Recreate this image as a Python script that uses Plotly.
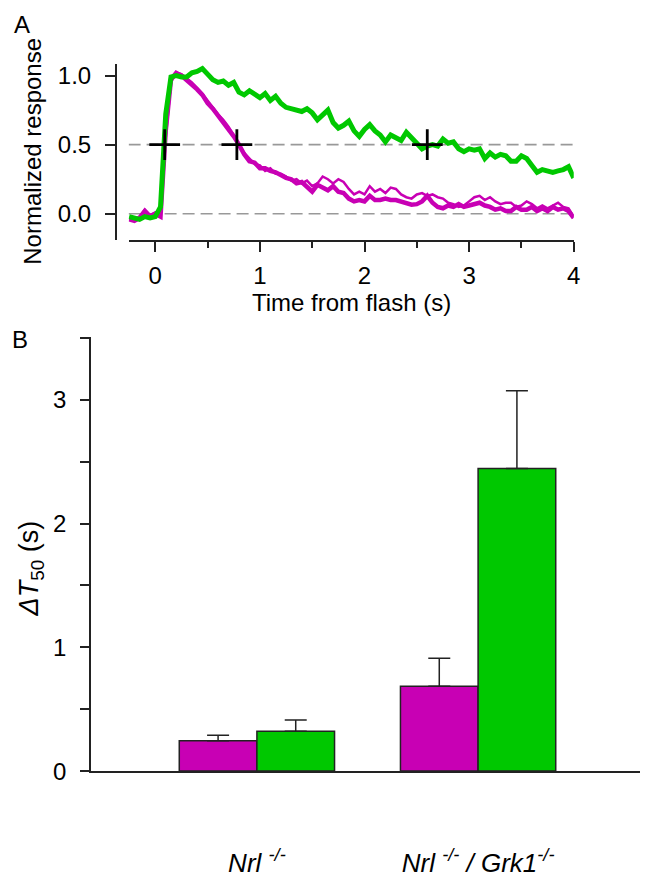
import plotly.graph_objects as go

# ---------------- Panel A data ----------------
time_s = [-0.25, -0.20, -0.15, -0.10, -0.05, 0.00, 0.05, 0.10, 0.15, 0.20,
          0.25, 0.30, 0.35, 0.40, 0.45, 0.50, 0.55, 0.60, 0.65, 0.70,
          0.75, 0.80, 0.85, 0.90, 0.95, 1.00, 1.05, 1.10, 1.15, 1.20,
          1.25, 1.30, 1.35, 1.40, 1.45, 1.50, 1.55, 1.60, 1.65, 1.70,
          1.75, 1.80, 1.85, 1.90, 1.95, 2.00, 2.05, 2.10, 2.15, 2.20,
          2.25, 2.30, 2.35, 2.40, 2.45, 2.50, 2.55, 2.60, 2.65, 2.70,
          2.75, 2.80, 2.85, 2.90, 2.95, 3.00, 3.05, 3.10, 3.15, 3.20,
          3.25, 3.30, 3.35, 3.40, 3.45, 3.50, 3.55, 3.60, 3.65, 3.70,
          3.75, 3.80, 3.85, 3.90, 3.95, 4.00]

green_resp = [-0.02, -0.03, -0.04, -0.02, -0.03, -0.02, 0.05, 0.72, 0.99, 1.00,
              0.99, 0.99, 1.02, 1.03, 1.05, 1.01, 0.97, 0.95, 0.96, 0.93,
              0.95, 0.88, 0.86, 0.89, 0.86, 0.84, 0.87, 0.82, 0.85, 0.80,
              0.77, 0.76, 0.75, 0.74, 0.76, 0.73, 0.68, 0.71, 0.75, 0.66,
              0.62, 0.64, 0.67, 0.60, 0.56, 0.61, 0.645, 0.60, 0.57, 0.52,
              0.57, 0.55, 0.53, 0.59, 0.55, 0.50, 0.47, 0.49, 0.50, 0.49,
              0.54, 0.51, 0.52, 0.47, 0.45, 0.47, 0.46, 0.47, 0.40, 0.44,
              0.41, 0.43, 0.42, 0.38, 0.38, 0.42, 0.40, 0.35, 0.30, 0.32,
              0.31, 0.30, 0.31, 0.32, 0.34, 0.26]

magenta_resp_1 = [-0.04, -0.05, -0.03, 0.02, -0.02, 0.00, -0.02, 0.60, 0.97, 1.02,
                  1.00, 0.97, 0.94, 0.90, 0.86, 0.80, 0.76, 0.71, 0.67, 0.62,
                  0.56, 0.50, 0.43, 0.38, 0.37, 0.33, 0.33, 0.31, 0.30, 0.28,
                  0.26, 0.25, 0.22, 0.23, 0.19, 0.16, 0.21, 0.19, 0.17, 0.20,
                  0.16, 0.15, 0.11, 0.09, 0.10, 0.09, 0.13, 0.10, 0.10, 0.11,
                  0.10, 0.10, 0.09, 0.08, 0.066, 0.07, 0.09, 0.13, 0.08, 0.05,
                  0.04, 0.06, 0.05, 0.07, 0.05, 0.06, 0.07, 0.08, 0.06, 0.05,
                  0.03, 0.04, 0.02, 0.02, 0.05, 0.03, 0.03, 0.05, 0.02, 0.04,
                  0.02, 0.05, 0.03, 0.04, 0.02, -0.03]

magenta_resp_2 = [-0.03, -0.04, -0.02, 0.03, -0.01, 0.01, -0.01, 0.55, 0.95, 1.02,
                  1.01, 0.98, 0.95, 0.91, 0.87, 0.82, 0.77, 0.72, 0.68, 0.63,
                  0.57, 0.49, 0.44, 0.40, 0.36, 0.35, 0.31, 0.33, 0.29, 0.29,
                  0.27, 0.24, 0.25, 0.22, 0.24, 0.20, 0.22, 0.27, 0.25, 0.22,
                  0.25, 0.23, 0.18, 0.14, 0.16, 0.14, 0.20, 0.16, 0.18, 0.15,
                  0.19, 0.18, 0.14, 0.12, 0.11, 0.14, 0.15, 0.13, 0.14, 0.12,
                  0.11, 0.08, 0.07, 0.05, 0.06, 0.09, 0.12, 0.13, 0.10, 0.12,
                  0.09, 0.07, 0.08, 0.08, 0.05, 0.06, 0.09, 0.07, 0.04, 0.06,
                  0.04, 0.06, 0.08, 0.05, 0.04, -0.02]

t50_time = [0.09, 0.78, 2.60]
t50_level = [0.5, 0.5, 0.5]
ref_levels = [0.0, 0.5]

a_xticks = [0, 1, 2, 3, 4]
a_xminor = [0.5, 1.5, 2.5, 3.5]
a_yticks = [0.0, 0.5, 1.0]
a_yticktext = ["0.0", "0.5", "1.0"]

# ---------------- Panel B data ----------------
genotypes = ["Nrl", "Nrl/Grk1"]
genotype_labels = ["<i>Nrl <sup>-/-</sup></i>",
                   "<i>Nrl <sup>-/-</sup> / Grk1<sup>-/-</sup></i>"]
dT50_magenta = [0.246, 0.686]
dT50_magenta_err = [0.044, 0.225]
dT50_green = [0.322, 2.445]
dT50_green_err = [0.090, 0.629]
b_yticks = [0, 0.5, 1, 1.5, 2, 2.5, 3, 3.5]
b_yticktext = ["0", "", "1", "", "2", "", "3", ""]

GREEN = "#00c800"
MAGENTA = "#c800b4"
AXIS = "#222222"
FONT = "Liberation Sans, Arial, sans-serif"
FS = 24
W, H = 648, 878

fig = go.Figure()

# reference dashed levels
for lv in ref_levels:
    fig.add_trace(go.Scatter(x=[time_s[0] - 0.005, time_s[-1]], y=[lv, lv], mode="lines",
                             line=dict(color="#999999", width=1.6, dash="12px,6px"),
                             xaxis="x", yaxis="y", showlegend=False, hoverinfo="skip"))

fig.add_trace(go.Scatter(x=time_s, y=magenta_resp_2, mode="lines",
                         line=dict(color=MAGENTA, width=2.5), xaxis="x", yaxis="y",
                         showlegend=False))
fig.add_trace(go.Scatter(x=time_s, y=magenta_resp_1, mode="lines",
                         line=dict(color=MAGENTA, width=4.5), xaxis="x", yaxis="y",
                         showlegend=False))
fig.add_trace(go.Scatter(x=time_s, y=green_resp, mode="lines",
                         line=dict(color=GREEN, width=5), xaxis="x", yaxis="y",
                         showlegend=False))
fig.add_trace(go.Scatter(x=t50_time, y=t50_level, mode="markers",
                         marker=dict(symbol="cross-thin", size=22,
                                     line=dict(color="black", width=2.8)),
                         xaxis="x", yaxis="y", showlegend=False, cliponaxis=False))

# Panel B bars
fig.add_trace(go.Bar(x=genotypes, y=dT50_magenta, marker=dict(color=MAGENTA, line=dict(color=AXIS, width=1.5)),
                     error_y=dict(type="data", array=dT50_magenta_err, arrayminus=[0, 0], symmetric=False,
                                  color=AXIS, thickness=1.5, width=11),
                     xaxis="x2", yaxis="y2", showlegend=False))
fig.add_trace(go.Bar(x=genotypes, y=dT50_green, marker=dict(color=GREEN, line=dict(color=AXIS, width=1.5)),
                     error_y=dict(type="data", array=dT50_green_err, arrayminus=[0, 0], symmetric=False,
                                  color=AXIS, thickness=1.5, width=11),
                     xaxis="x2", yaxis="y2", showlegend=False))

tickfont = dict(family=FONT, size=FS, color="black")

fig.update_layout(
    width=W, height=H, margin=dict(l=0, r=0, t=0, b=0),
    paper_bgcolor="white", plot_bgcolor="white",
    font=dict(family=FONT, size=FS, color="black"),
    barmode="group", bargap=0.298, bargroupgap=0,
    xaxis=dict(domain=[130 / W, 580 / W], range=[-0.255, 4.0], anchor="y",
               showline=True, linecolor=AXIS, linewidth=1.5, showgrid=False, zeroline=False,
               tickvals=a_xticks, ticks="outside", ticklen=10, tickwidth=1.5, tickcolor=AXIS,
               minor=dict(tickvals=a_xminor, ticks="outside", ticklen=6, tickwidth=1.5, tickcolor=AXIS),
               tickfont=tickfont, ticklabelstandoff=3),
    yaxis=dict(domain=[1 - 243 / H, 1 - 63 / H], range=[-0.1915, 1.085], anchor="free",
               position=117 / W, showline=True, linecolor=AXIS, linewidth=1.5, showgrid=False,
               zeroline=False, tickvals=a_yticks, ticktext=a_yticktext, ticks="outside",
               ticklen=10, tickwidth=1.5, tickcolor=AXIS, tickfont=tickfont, ticklabelstandoff=9),
    xaxis2=dict(domain=[92 / W, 647 / W], range=[-0.75, 1.732], anchor="y2",
                showline=True, linecolor=AXIS, linewidth=1.5, showgrid=False, zeroline=False,
                type="category", tickvals=genotypes, ticktext=genotype_labels, ticks="",
                tickfont=dict(family=FONT, size=26, color="black"), ticklabelstandoff=68),
    yaxis2=dict(domain=[1 - 784.3 / H, 1 - 341.7 / H], range=[0, 3.507], anchor="x2",
                showline=True, linecolor=AXIS, linewidth=1.5, showgrid=False, zeroline=False,
                tickvals=b_yticks, ticktext=b_yticktext, ticks="outside", ticklen=9,
                tickwidth=1.5, tickcolor=AXIS, tickfont=tickfont, ticklabelstandoff=9),
    annotations=[
        dict(text="A", x=22 / W, y=1 - 23 / H, xref="paper", yref="paper", showarrow=False,
             font=dict(family=FONT, size=FS), xanchor="center", yanchor="middle"),
        dict(text="B", x=20 / W, y=1 - 344 / H, xref="paper", yref="paper", showarrow=False,
             font=dict(family=FONT, size=FS), xanchor="center", yanchor="middle"),
        dict(text="Normalized response", x=32 / W, y=1 - 152 / H, xref="paper", yref="paper",
             showarrow=False, textangle=-90, font=dict(family=FONT, size=FS),
             xanchor="center", yanchor="middle"),
        dict(text="Time from flash (s)", x=355 / W, y=1 - 306 / H, xref="paper", yref="paper",
             showarrow=False, font=dict(family=FONT, size=FS), xanchor="center", yanchor="middle"),
        dict(text="<i>ΔT</i><sub>50</sub> (s)", x=31 / W, y=1 - 578 / H, xref="paper", yref="paper",
             showarrow=False, textangle=-90, font=dict(family=FONT, size=27),
             xanchor="center", yanchor="middle"),
    ],
)

fig.write_html("out.html")
